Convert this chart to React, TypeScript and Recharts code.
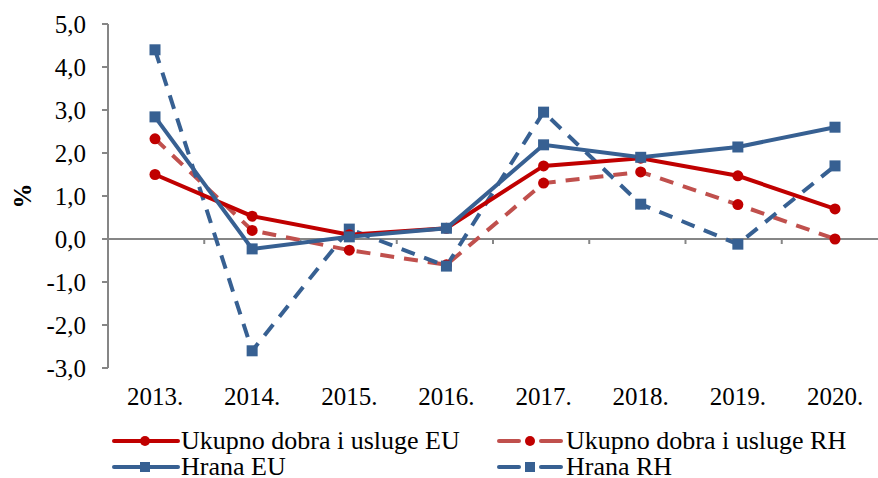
import { Legend, Line, LineChart, ReferenceLine, XAxis, YAxis } from "recharts";

const years = ["2013.", "2014.", "2015.", "2016.", "2017.", "2018.", "2019.", "2020."];
const ukupnoEU = [1.5, 0.53, 0.1, 0.25, 1.7, 1.88, 1.47, 0.7];
const ukupnoRH = [2.33, 0.2, -0.26, -0.6, 1.3, 1.56, 0.8, 0.0];
const hranaEU = [2.84, -0.23, 0.05, 0.25, 2.19, 1.9, 2.14, 2.6];
const hranaRH = [4.4, -2.6, 0.23, -0.63, 2.95, 0.81, -0.12, 1.7];
const yTicks = [-3, -2, -1, 0, 1, 2, 3, 4, 5];

const FONT = '"Liberation Serif", "Times New Roman", serif';
const RED = "#C00000";
const RED_LIGHT = "#C0504D";
const BLUE = "#376092";
const AXIS = "#868686";

const data = years.map((y, i) => ({
  year: y,
  ukupnoEU: ukupnoEU[i],
  ukupnoRH: ukupnoRH[i],
  hranaEU: hranaEU[i],
  hranaRH: hranaRH[i],
}));

const fmt = (v: number) => v.toFixed(1).replace(".", ",");

function Square(props: any) {
  const { cx, cy } = props;
  if (cx == null || cy == null) return null;
  return <rect x={cx - 5.5} y={cy - 5.5} width={11} height={11} fill={BLUE} />;
}

// zero line with small ticks at category boundaries, like the Excel axis
function ZeroAxis(props: any) {
  const { x1, y1, x2, y2 } = props;
  const n = years.length;
  const step = (x2 - x1) / n;
  return (
    <g>
      <line x1={x1} y1={y1} x2={x2} y2={y2} stroke={AXIS} strokeWidth={2} />
      {years.slice(1).map((_, i) => (
        <line key={i} x1={x1 + step * (i + 1)} x2={x1 + step * (i + 1)} y1={y1} y2={y1 + 5} stroke={AXIS} strokeWidth={2} />
      ))}
    </g>
  );
}

function PercentLabel(props: any) {
  const vb = props.viewBox || {};
  const cx = (vb.x ?? 0) + 22;
  const cy = (vb.y ?? 0) + (vb.height ?? 0) / 2;
  return (
    <text
      x={cx}
      y={cy}
      transform={`rotate(-90, ${cx}, ${cy})`}
      textAnchor="middle"
      dominantBaseline="central"
      fill="#000"
      fontSize={25}
      fontWeight="bold"
      fontFamily={FONT}
    >
      %
    </text>
  );
}

const legendItems = [
  { name: "Ukupno dobra i usluge EU", color: RED, dashed: false, marker: "circle" },
  { name: "Ukupno dobra i usluge RH", color: RED_LIGHT, dashed: true, marker: "circle" },
  { name: "Hrana EU", color: BLUE, dashed: false, marker: "square" },
  { name: "Hrana RH", color: BLUE, dashed: true, marker: "square" },
];

function LegendBox() {
  return (
    <div
      style={{
        display: "grid",
        gridTemplateColumns: "385px 380px",
        paddingLeft: 112,
        paddingTop: 12,
        fontFamily: FONT,
        fontSize: 26,
        lineHeight: "22px",
        color: "#000",
      }}
    >
      {legendItems.map((it) => (
        <div key={it.name} style={{ display: "flex", alignItems: "center", height: 26, whiteSpace: "nowrap" }}>
          <svg width={68} height={14} style={{ marginRight: 1, flexShrink: 0 }}>
            {it.dashed ? (
              <>
                <line x1={2} x2={22} y1={7} y2={7} stroke={it.color} strokeWidth={4} strokeLinecap="round" />
                <line x1={44} x2={64} y1={7} y2={7} stroke={it.color} strokeWidth={4} strokeLinecap="round" />
              </>
            ) : (
              <line x1={2} x2={66} y1={7} y2={7} stroke={it.color} strokeWidth={4} strokeLinecap="round" />
            )}
            {it.marker === "circle" ? (
              <circle cx={33} cy={7} r={5} fill={RED} />
            ) : (
              <rect x={28} y={2} width={10} height={10} fill={BLUE} />
            )}
          </svg>
          <span>{it.name}</span>
        </div>
      ))}
    </div>
  );
}

export default function App() {
  return (
    <div style={{ position: "absolute", left: 0, top: 0, background: "#fff" }}>
      <LineChart width={878} height={478} data={data} margin={{ top: 24, right: 0, left: 0, bottom: 0 }}>
        <XAxis
          dataKey="year"
          axisLine={false}
          tickLine={false}
          tickSize={0}
          tickMargin={19}
          padding={{ left: 47, right: 43 }}
          tick={{ fill: "#000", fontSize: 25, fontFamily: FONT }}
          height={48}
        />
        <YAxis
          domain={[-3, 5]}
          ticks={yTicks}
          interval={0}
          width={108}
          tickFormatter={fmt}
          tick={{ fill: "#000", fontSize: 25, fontFamily: FONT }}
          tickSize={6}
          tickMargin={16}
          tickLine={{ stroke: AXIS, strokeWidth: 2 }}
          axisLine={{ stroke: AXIS, strokeWidth: 2 }}
          label={<PercentLabel />}
        />
        <ReferenceLine y={0} shape={ZeroAxis} />
        <Legend verticalAlign="bottom" height={62} content={() => <LegendBox />} />
        <Line
          dataKey="ukupnoRH"
          stroke={RED_LIGHT}
          strokeWidth={4}
          strokeDasharray="14 10"
          dot={{ r: 5.5, fill: RED, stroke: "none" }}
          isAnimationActive={false}
        />
        <Line
          dataKey="hranaRH"
          stroke={BLUE}
          strokeWidth={4}
          strokeDasharray="14 10"
          dot={<Square />}
          isAnimationActive={false}
        />
        <Line
          dataKey="ukupnoEU"
          stroke={RED}
          strokeWidth={4}
          dot={{ r: 5.5, fill: RED, stroke: "none" }}
          isAnimationActive={false}
        />
        <Line
          dataKey="hranaEU"
          stroke={BLUE}
          strokeWidth={4}
          dot={<Square />}
          isAnimationActive={false}
        />
      </LineChart>
    </div>
  );
}
